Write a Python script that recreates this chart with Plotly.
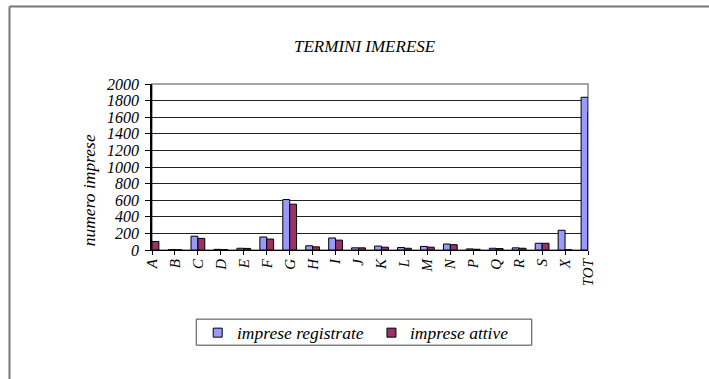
import plotly.graph_objects as go

categories = ["A", "B", "C", "D", "E", "F", "G", "H", "I", "J", "K", "L", "M",
              "N", "P", "Q", "R", "S", "X", "TOT"]
imprese_registrate = [110, 3, 166, 8, 21, 157, 608, 51, 145, 26, 47, 30, 43,
                      72, 13, 21, 26, 81, 238, 1840]
imprese_attive = [102, 2, 140, 5, 19, 132, 552, 38, 119, 26, 34, 21, 34,
                  64, 9, 17, 21, 81, 2, 1660]
y_ticks = [0, 200, 400, 600, 800, 1000, 1200, 1400, 1600, 1800, 2000]
series_names = ["imprese registrate", "imprese attive"]
series_colors = ["#9999FF", "#993366"]

W, H = 709, 379
L, R, T, B = 151.7, 588.3, 84.3, 250.0
pw, ph = R - L, B - T


def px(x):
    return (x - L) / pw


def py(y):
    return (B - y) / ph


FONT = "Liberation Serif"

fig = go.Figure()
for name, vals, col in zip(series_names, [imprese_registrate, imprese_attive], series_colors):
    fig.add_trace(go.Bar(x=categories, y=vals, name=name,
                         marker=dict(color=col, line=dict(color="#000000", width=1))))

# manual legend (box, swatches, labels)
legend_shapes = [
    dict(type="rect", xref="paper", yref="paper", x0=px(196), x1=px(532), y0=py(345), y1=py(319),
         line=dict(color="#444444", width=1), fillcolor="white", layer="above"),
]
legend_annots = []
for sx, tx, name, col in zip([213, 387], [235, 408], series_names, series_colors):
    legend_shapes.append(dict(type="rect", xref="paper", yref="paper",
                              x0=px(sx), x1=px(sx + 9), y0=py(337), y1=py(328),
                              line=dict(color="#000000", width=1), fillcolor=col, layer="above"))
    legend_annots.append(dict(text=name, x=px(tx), y=py(332.5), xref="paper", yref="paper",
                              xanchor="left", yanchor="middle", showarrow=False,
                              font=dict(family=FONT, size=17.5, style="italic")))

fig.update_layout(
    width=W, height=H,
    margin=dict(l=L, r=W - R, t=T, b=H - B, pad=0, autoexpand=False),
    paper_bgcolor="white", plot_bgcolor="white",
    barmode="group", bargap=0.4, bargroupgap=0,
    font=dict(family=FONT, size=15, color="#000000", style="italic"),
    showlegend=False,
    annotations=[
        dict(text="TERMINI IMERESE", x=px(365), y=py(47), xref="paper", yref="paper",
             xanchor="center", yanchor="middle", showarrow=False,
             font=dict(family=FONT, size=17, style="italic")),
        dict(text="numero imprese", x=px(89), y=py(190), xref="paper", yref="paper",
             xanchor="center", yanchor="middle", textangle=-90, showarrow=False,
             font=dict(family=FONT, size=17.5, style="italic")),
    ] + legend_annots,
    shapes=[
        dict(type="line", xref="paper", yref="paper", x0=px(9), x1=px(712), y0=py(7), y1=py(7),
             line=dict(color="#777777", width=2)),
        dict(type="line", xref="paper", yref="paper", x0=px(9), x1=px(9), y0=py(7), y1=py(385),
             line=dict(color="#777777", width=2)),
        dict(type="rect", xref="paper", yref="paper", x0=0, x1=1, y0=0, y1=1,
             line=dict(color="#888888", width=1.5), layer="below"),
    ] + legend_shapes,
)

fig.update_xaxes(
    type="category", range=[0, len(categories) - 1],
    showline=True, linecolor="#000000", linewidth=1,
    ticks="outside", ticklen=4, tickcolor="#000000",
    tickangle=-90, showgrid=False, ticklabelstandoff=-2,
    tickfont=dict(family=FONT, size=15, style="italic"),
)
fig.update_yaxes(
    range=[0, 2000], tickvals=y_ticks,
    showline=True, linecolor="#000000", linewidth=1.5,
    ticks="outside", ticklen=5, tickcolor="#000000", ticklabelstandoff=3,
    showgrid=True, gridcolor="#222222", gridwidth=1, zeroline=False,
    tickfont=dict(family=FONT, size=16, style="italic"),
)

fig.write_html("out.html", config={"displayModeBar": False},
               post_script="document.body.style.margin='0';")
